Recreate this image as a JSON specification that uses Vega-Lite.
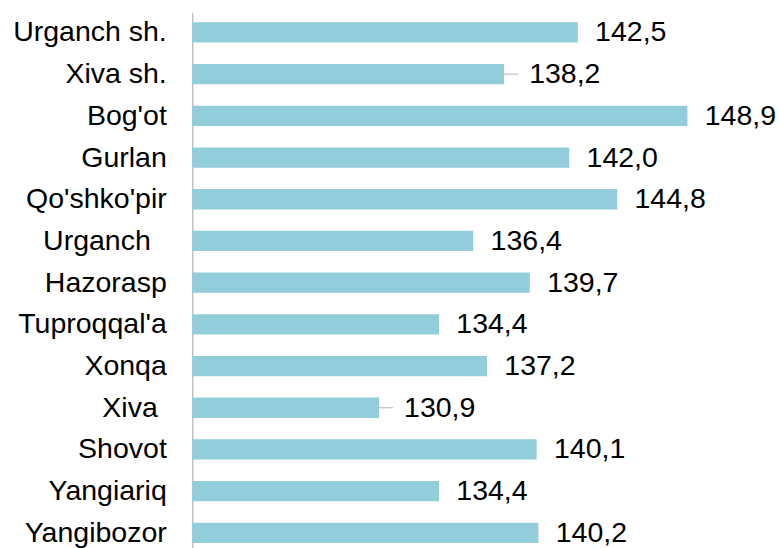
{
  "$schema": "https://vega.github.io/schema/vega-lite/v6.json",
  "width": 514,
  "height": 535.7,
  "autosize": "none",
  "padding": {"left": 192.3, "top": 12.3, "right": 72.7, "bottom": 0},
  "background": "white",
  "config": {
    "view": {"stroke": null},
    "font": "Liberation Sans",
    "locale": {"number": {"decimal": ",", "thousands": " ", "grouping": [3], "currency": ["", ""]}}
  },
  "data": {
    "values": [
      {"district": "Urganch sh.", "value": 142.5},
      {"district": "Xiva sh.", "value": 138.2},
      {"district": "Bog'ot", "value": 148.9},
      {"district": "Gurlan", "value": 142.0},
      {"district": "Qo'shko'pir", "value": 144.8},
      {"district": "Urganch  ", "value": 136.4},
      {"district": "Hazorasp", "value": 139.7},
      {"district": "Tuproqqal'a", "value": 134.4},
      {"district": "Xonqa", "value": 137.2},
      {"district": "Xiva ", "value": 130.9},
      {"district": "Shovot", "value": 140.1},
      {"district": "Yangiariq", "value": 134.4},
      {"district": "Yangibozor", "value": 140.2}
    ]
  },
  "encoding": {
    "y": {
      "field": "district",
      "type": "nominal",
      "sort": ["Urganch sh.", "Xiva sh.", "Bog'ot", "Gurlan", "Qo'shko'pir", "Urganch  ", "Hazorasp", "Tuproqqal'a", "Xonqa", "Xiva ", "Shovot", "Yangiariq", "Yangibozor"],
      "scale": {"paddingInner": 0.513, "paddingOuter": 0.18, "align": 0.667},
      "axis": {
        "title": null,
        "ticks": false,
        "labelPadding": {
          "condition": [
            {"test": "datum.value == 'Urganch  '", "value": 42},
            {"test": "datum.value == 'Xiva '", "value": 35}
          ],
          "value": 26
        },
        "labelFontSize": 28.5,
        "labelFont": "Liberation Sans",
        "labelColor": "#000000",
        "labelLimit": 0,
        "domainColor": "#a6a6a6",
        "domainWidth": 1
      }
    },
    "x": {
      "field": "value",
      "type": "quantitative",
      "scale": {"domain": [120, 150], "nice": false, "zero": false},
      "axis": null
    }
  },
  "layer": [
    {
      "mark": {"type": "bar", "color": "#92CDDC"},
      "encoding": {"x2": {"datum": 120}}
    },
    {
      "transform": [{"filter": "datum.district == 'Xiva sh.' || datum.district == 'Xiva '"}],
      "mark": {"type": "tick", "orient": "horizontal", "size": 14, "thickness": 1.2, "xOffset": 7, "color": "#a6a6a6"}
    },
    {
      "transform": [{"filter": "datum.district != 'Xiva sh.' && datum.district != 'Xiva '"}],
      "mark": {"type": "text", "align": "left", "baseline": "middle", "dx": 17.3, "fontSize": 28.5, "font": "Liberation Sans", "color": "#000000"},
      "encoding": {"text": {"field": "value", "type": "quantitative", "format": ".1f"}}
    },
    {
      "transform": [{"filter": "datum.district == 'Xiva sh.' || datum.district == 'Xiva '"}],
      "mark": {"type": "text", "align": "left", "baseline": "middle", "dx": 25, "fontSize": 28.5, "font": "Liberation Sans", "color": "#000000"},
      "encoding": {"text": {"field": "value", "type": "quantitative", "format": ".1f"}}
    }
  ]
}
